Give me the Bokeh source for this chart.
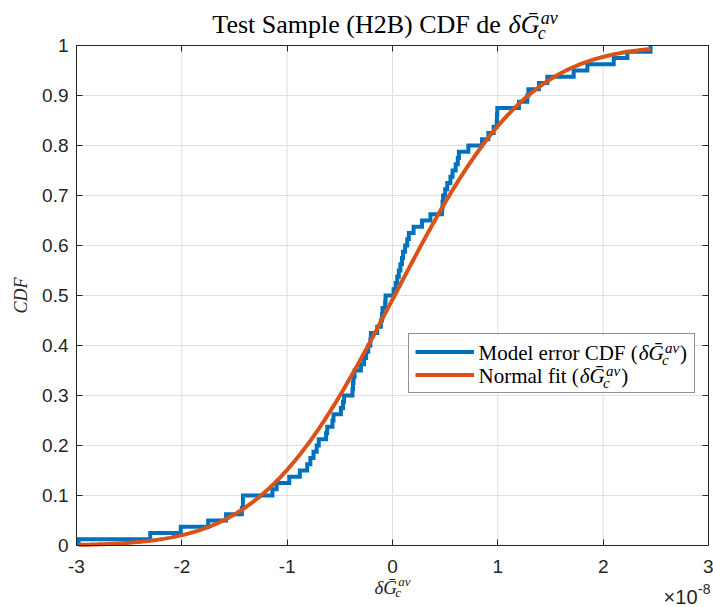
import math
import numpy as np
from bokeh.plotting import figure
from bokeh.models import Label, Legend, LegendItem, LinearAxis, FixedTicker, Range1d, BoxAnnotation
from bokeh.core.properties import value
from bokeh.embed import file_html
from bokeh.resources import INLINE

# ---------------- data (x values in units of 1e-8) ----------------
model_error_e8 = [
    -2.98, -2.30, -2.01, -1.75, -1.58, -1.43, -1.42, -1.42, -1.14, -1.10,
    -0.98, -0.88, -0.81, -0.78, -0.75, -0.72, -0.70, -0.63, -0.62, -0.57,
    -0.56, -0.49, -0.47, -0.46, -0.38, -0.375, -0.37, -0.36, -0.30, -0.27,
    -0.25, -0.23, -0.21, -0.205, -0.145, -0.11, -0.10, -0.095, -0.07, -0.066,
    0.01, 0.03, 0.045, 0.06, 0.075, 0.09, 0.10, 0.12, 0.14, 0.155,
    0.20, 0.28, 0.36, 0.47, 0.475, 0.48, 0.50, 0.52, 0.55, 0.57,
    0.60, 0.62, 0.63, 0.72, 0.85, 0.91, 0.96, 0.99, 0.992, 0.995,
    1.20, 1.28, 1.29, 1.39, 1.47, 1.72, 1.85, 2.10, 2.23, 2.45,
]
fit_mean_e8 = 0.02
fit_std_e8 = 0.99

x_ticks = [-3, -2, -1, 0, 1, 2, 3]
x_tick_labels = ["-3", "-2", "-1", "0", "1", "2", "3"]
y_ticks = [0, 0.1, 0.2, 0.3, 0.4, 0.5, 0.6, 0.7, 0.8, 0.9, 1]
y_tick_labels = ["0", "0.1", "0.2", "0.3", "0.4", "0.5", "0.6", "0.7", "0.8", "0.9", "1"]
x_lim = (-3, 3)
y_lim = (0, 1)

title_main = "Test Sample (H2B) CDF de"
math_base = "δḠ"
math_sup = "av"
math_sub = "c"
legend_main = ["Model error CDF (", "Normal fit ("]
y_label_text = "CDF"
x_scale_base = "×10"
x_scale_exp = "-8"

# ---------------- layout (canvas pixels) ----------------
W, H = 713, 607
FL, FR, FT, FB = 76, 708, 45, 545          # data area of the axes
AXC = "#262626"
BLUE = "#0072BD"
ORANGE = "#D95319"
GRID = "#dfdfdf"
BASE_FIX = 0.27                            # Label baseline correction (fraction of font size)

SXP = (FR - FL) / (x_lim[1] - x_lim[0])
SYP = (FB - FT) / (y_lim[1] - y_lim[0])
xr = Range1d(x_lim[0] - FL / SXP, x_lim[1] + (W - FR) / SXP)
yr = Range1d(y_lim[0] - (H - FB) / SYP, y_lim[1] + FT / SYP)

p = figure(width=W, height=H, output_backend="svg", toolbar_location=None,
           x_range=xr, y_range=yr, title_location=None,
           x_axis_location=None, y_axis_location=None,
           min_border=0, min_border_left=0, min_border_right=0,
           min_border_top=0, min_border_bottom=0,
           background_fill_color="white", border_fill_color="white")
p.outline_line_color = None
p.xgrid.visible = False
p.ygrid.visible = False

# ---------------- grid lines (from the tick lists) ----------------
p.segment(x0=x_ticks, y0=[y_lim[0]] * len(x_ticks), x1=x_ticks, y1=[y_lim[1]] * len(x_ticks),
          line_color=GRID, line_width=1, level="underlay")
p.segment(x0=[x_lim[0]] * len(y_ticks), y0=y_ticks, x1=[x_lim[1]] * len(y_ticks), y1=y_ticks,
          line_color=GRID, line_width=1, level="underlay")


def make_axis(ticks, labels, loc, bounds, show):
    ax = LinearAxis(fixed_location=loc, bounds=bounds)
    ax.ticker = FixedTicker(ticks=ticks)
    ax.axis_line_color = AXC
    ax.axis_line_width = 1
    ax.major_tick_line_color = AXC
    ax.major_tick_in = 6
    ax.major_tick_out = 0
    ax.minor_tick_line_color = None
    ax.major_label_text_color = AXC
    ax.major_label_text_font = "Liberation Sans"
    if show:
        ax.major_label_overrides = {t: s for t, s in zip(ticks, labels)}
        ax.major_label_text_font_size = "19px"
    else:
        ax.major_label_overrides = {t: "" for t in ticks}
        ax.major_label_text_font_size = "1px"
        ax.major_label_standoff = 0
    return ax


ax_b = make_axis(x_ticks, x_tick_labels, y_lim[0], x_lim, True)
ax_b.major_label_standoff = 14
p.add_layout(ax_b, "below")
ax_l = make_axis(y_ticks, y_tick_labels, x_lim[0], y_lim, True)
ax_l.major_label_standoff = 8
p.add_layout(ax_l, "left")
p.add_layout(make_axis(x_ticks, x_tick_labels, y_lim[1], x_lim, False), "above")
p.add_layout(make_axis(y_ticks, y_tick_labels, x_lim[1], y_lim, False), "right")

# ---------------- ECDF stairs ----------------
xs_sorted = sorted(model_error_e8)
n = len(xs_sorted)
stair_x, stair_y = [], []
prev = 0.0
for i, xv in enumerate(xs_sorted):
    stair_x += [xv, xv]
    stair_y += [prev, (i + 1) / n]
    prev = (i + 1) / n

r_cdf = p.line(stair_x, stair_y, line_color=BLUE, line_width=4, line_join="miter")

# ---------------- normal fit ----------------
fx = np.linspace(xs_sorted[0], xs_sorted[-1], 400)
fy = [0.5 * (1 + math.erf((v - fit_mean_e8) / (fit_std_e8 * math.sqrt(2)))) for v in fx]
r_fit = p.line(fx, fy, line_color=ORANGE, line_width=4)


def to_data(px, py):
    return xr.start + px / SXP, yr.end - py / SYP


# ---------------- legend ----------------
LEG_L, LEG_T, LEG_W = 408, 335, 285
PAD, ROW_H, GLW, STOFF = 6, 23, 59, 5
LEG_H = 2 * PAD + 2 * ROW_H
bl, bt = to_data(LEG_L, LEG_T)
br, bb = to_data(LEG_L + LEG_W, LEG_T + LEG_H)
p.add_layout(BoxAnnotation(left=bl, right=br, top=bt, bottom=bb, fill_color="white",
                           fill_alpha=1, line_color=None, level="annotation"))
leg = Legend(items=[LegendItem(label=value(" "), renderers=[r_cdf]),
                    LegendItem(label=value(" "), renderers=[r_fit])],
             location=(LEG_L, H - (LEG_T + LEG_H)), orientation="vertical",
             border_line_color=AXC, border_line_width=1,
             background_fill_color="white", background_fill_alpha=0,
             padding=PAD, spacing=0, margin=0, glyph_width=GLW, glyph_height=ROW_H,
             label_standoff=STOFF, label_width=LEG_W - 2 * PAD - GLW - STOFF, label_height=ROW_H,
             label_text_font_size="21px")
p.add_layout(leg)

# ---------------- texts ----------------
W_R = {' ': 250, '(': 333, ')': 333, '2': 500, 'B': 667, 'C': 667, 'D': 722, 'F': 556,
       'H': 722, 'M': 889, 'N': 722, 'S': 556, 'T': 611, 'a': 444, 'd': 500, 'e': 444,
       'f': 333, 'i': 278, 'l': 278, 'm': 778, 'o': 500, 'p': 500, 'r': 333, 's': 389,
       't': 278, 'x': 500}
W_I = {'δ': 480, 'Ḡ': 722, 'a': 500, 'v': 444, 'c': 444}


def width(text, size, table):
    return sum(table.get(ch, 500) for ch in text) * size / 1000.0


def add_text(px, py, text, size, italic=False, font="Liberation Serif", align="left",
             baseline="alphabetic", color="black", angle=0.0):
    if angle:
        px -= BASE_FIX * size
    else:
        py -= BASE_FIX * size
    x, y = to_data(px, py)
    p.add_layout(Label(x=x, y=y, text=text, text_font=font, text_font_size=f"{size}px",
                       text_font_style="italic" if italic else "normal",
                       text_align=align, text_baseline=baseline, text_color=color,
                       angle=angle, level="overlay"))


def math_group(x0, base_y, size, small, sup_dy, sub_dy, color="black"):
    add_text(x0, base_y, math_base, size, italic=True, color=color)
    wb = width(math_base, size, W_I)
    add_text(x0 + wb + 1, base_y - sup_dy, math_sup, small, italic=True, color=color)
    add_text(x0 + wb - 2, base_y + sub_dy, math_sub, small, italic=True, color=color)
    return x0 + wb + 1 + width(math_sup, small, W_I)


def group_width(size, small):
    return width(math_base, size, W_I) + 1 + width(math_sup, small, W_I)


center_x = (FL + FR) / 2

# title
T_SIZE, T_SMALL = 26, 18
t_main_w = width(title_main, T_SIZE, W_R)
t_gap = 0.3 * T_SIZE
t_start = 210
add_text(t_start + t_main_w, 31, title_main, T_SIZE, align="right")
math_group(t_start + t_main_w + t_gap, 31, T_SIZE, T_SMALL, 9, 6)

# legend texts
tx = LEG_L + PAD + GLW + STOFF
for k, txt in enumerate(legend_main):
    rc = LEG_T + PAD + ROW_H / 2 + k * ROW_H
    base = rc + 6
    add_text(tx, base, txt, 21)
    end = math_group(tx + width(txt, 21, W_R) + 1, base, 21, 15, 7, 5)
    add_text(end + 1, base, ")", 21)

# x label
X_SIZE, X_SMALL = 19, 13
xg = group_width(X_SIZE, X_SMALL)
math_group(center_x - xg / 2, 592, X_SIZE, X_SMALL, 7, 4, color=AXC)

# y label
add_text(25, (FT + FB) / 2, y_label_text, 18, italic=True, align="center",
         baseline="middle", color=AXC, angle=math.pi / 2)

# x scale factor
add_text(697, 602, x_scale_base, 20, font="Liberation Sans", align="right", color=AXC)
add_text(697.5, 592, x_scale_exp, 14, font="Liberation Sans", color=AXC)

open("out.html", "w").write(file_html(p, INLINE))
